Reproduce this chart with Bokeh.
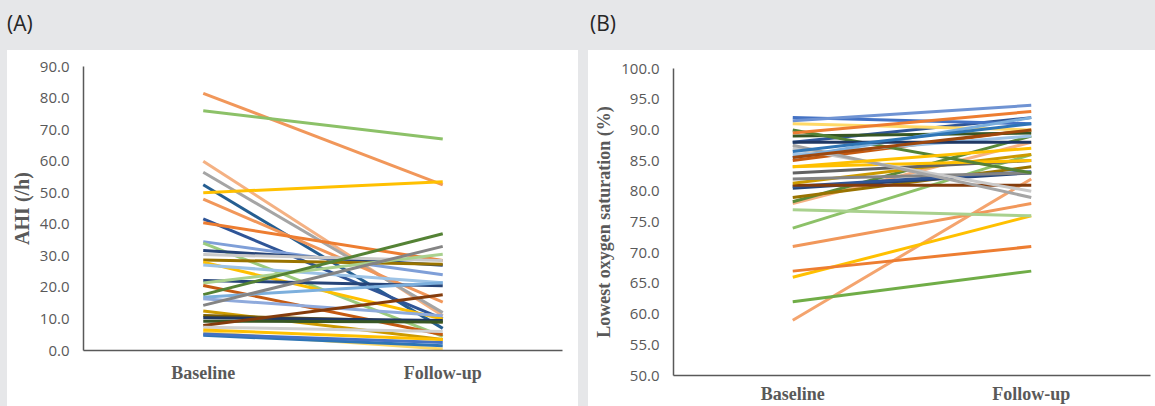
from bokeh.plotting import figure
from bokeh.models import FactorRange, Range1d, ColumnDataSource, Div, Spacer, NumeralTickFormatter, FixedTicker
from bokeh.layouts import column, row
from bokeh.embed import file_html
from bokeh.resources import INLINE

categories = ["Baseline", "Follow-up"]

# Panel A: AHI (/h)
ahi_baseline = [81.5, 76.0, 60.0, 56.5, 52.5, 50.0, 48.0, 41.7, 40.5, 34.5, 34.0,
                31.7, 30.4, 28.7, 28.0, 27.1, 22.2, 21.4, 20.6, 17.7, 16.9, 16.4,
                14.3, 12.5, 11.1, 10.4, 9.3, 7.9, 7.4, 5.8, 4.8, 5.2, 6.5]
ahi_followup = [52.5, 67.0, 11.0, 12.0, 7.0, 53.5, 15.3, 10.0, 28.5, 24.0, 4.5,
                27.0, 28.5, 27.3, 10.0, 21.5, 20.5, 30.5, 5.0, 37.0, 21.5, 11.0,
                33.0, 3.5, 9.0, 9.5, 9.0, 17.7, 6.0, 0.5, 1.5, 2.5, 3.5]
ahi_colors = ["#F1975A", "#8CC168", "#F4B183", "#A5A5A5", "#255E91", "#FFC000",
              "#F1975A", "#2F5597", "#ED7D31", "#7F9FD8", "#9BCB7E", "#264478",
              "#C9C9C9", "#997300", "#FFC000", "#9DC3E6", "#264478", "#A9D18E",
              "#C55A11", "#548235", "#7CAFDD", "#8FAADC", "#848484", "#CC9A00",
              "#7F6000", "#203864", "#385723", "#843C0C", "#D0D0D0", "#FFD966",
              "#2E75B6", "#4472C4", "#FFC000"]

# Panel B: Lowest oxygen saturation (%)
spo2_baseline = [59.0, 62.0, 66.0, 67.0, 71.0, 74.0, 77.0, 78.0, 78.3, 79.0, 80.5,
                 80.8, 81.0, 81.3, 82.0, 83.0, 84.0, 85.0, 86.0, 87.0, 87.5, 88.0,
                 89.0, 90.0, 91.0, 92.0, 91.5, 89.5, 85.5, 88.0, 85.5, 86.5, 84.0]
spo2_followup = [82.0, 67.0, 76.0, 71.0, 78.0, 86.0, 76.0, 88.0, 89.0, 84.0, 83.0,
                 83.2, 81.0, 86.0, 83.0, 85.0, 85.0, 90.0, 89.0, 80.0, 79.0, 92.0,
                 89.5, 83.0, 90.0, 91.0, 94.0, 93.0, 92.0, 88.0, 90.0, 91.0, 87.0]
spo2_colors = ["#F4A46E", "#70AD47", "#FFC000", "#ED7D31", "#F1975A", "#8CC168",
               "#A9D18E", "#F4B183", "#5A8A39", "#997300", "#264478", "#2F5597",
               "#843C0C", "#CC9A00", "#848484", "#636363", "#FFC000", "#C55A11",
               "#9DC3E6", "#C9C9C9", "#A5A5A5", "#2F5597", "#375623", "#548235",
               "#FFD966", "#4472C4", "#6F93D3", "#ED7D31", "#7CAFDD", "#1F3864",
               "#9E480E", "#2E75B6", "#FFC000"]

ahi_ticks = [0, 10, 20, 30, 40, 50, 60, 70, 80, 90]
spo2_ticks = [50, 55, 60, 65, 70, 75, 80, 85, 90, 95, 100]

GRAY_BG = "#E6E7E9"
TXT = "#595959"


def make_panel(base, follow, colors, y0, y1, ticks, ylabel, ylab_size, xstand,
               w, h, bl, bt, br, bb):
    p = figure(width=w, height=h, x_range=FactorRange(factors=categories),
               y_range=Range1d(y0, y1), output_backend="svg", toolbar_location=None,
               min_border_left=bl, min_border_top=bt, min_border_right=br,
               min_border_bottom=bb, margin=0, styles={"background-color": "white"})
    p.background_fill_color = None
    p.border_fill_color = None
    p.outline_line_color = None
    p.xgrid.visible = False
    p.ygrid.visible = False
    src = ColumnDataSource(dict(
        xs=[list(categories) for _ in base],
        ys=[[b, f] for b, f in zip(base, follow)],
        color=colors))
    p.multi_line(xs="xs", ys="ys", line_color="color", line_width=3, source=src)

    p.yaxis.ticker = FixedTicker(ticks=ticks)
    p.yaxis.formatter = NumeralTickFormatter(format="0.0")
    p.yaxis.major_label_text_font = "Open Sans"
    p.yaxis.major_label_text_font_size = "15px"
    p.yaxis.major_label_text_color = TXT
    p.yaxis.major_label_standoff = 14
    p.yaxis.axis_label = ylabel
    p.yaxis.axis_label_text_font = "Liberation Serif"
    p.yaxis.axis_label_text_font_style = "bold"
    p.yaxis.axis_label_text_font_size = ylab_size
    p.yaxis.axis_label_text_color = TXT
    p.yaxis.axis_label_standoff = 4

    p.xaxis.major_label_text_font = "Liberation Serif"
    p.xaxis.major_label_text_font_style = "bold"
    p.xaxis.major_label_text_font_size = "18px"
    p.xaxis.major_label_text_color = TXT
    p.xaxis.major_label_standoff = xstand

    for ax in (p.xaxis, p.yaxis):
        ax.major_tick_line_color = None
        ax.minor_tick_line_color = None
        ax.major_tick_out = 0
        ax.major_tick_in = 0
        ax.minor_tick_out = 0
        ax.minor_tick_in = 0
        ax.axis_line_color = "#595959"
        ax.axis_line_width = 1.5
    return p


pA = make_panel(ahi_baseline, ahi_followup, ahi_colors, 0, 90, ahi_ticks,
                "AHI (/h)", "20px", 12, 571, 356, 75, 16, 16, 56)
pB = make_panel(spo2_baseline, spo2_followup, spo2_colors, 50, 100, spo2_ticks,
                "Lowest oxygen saturation (%)", "18px", 8, 567, 356, 85, 18, 5, 31)

hdr_style = "margin:11px 0 0 0; font-family:'Open Sans'; font-size:21px; color:#262626; line-height:24px;"
divA = Div(text=f'<div style="{hdr_style}">(A)</div>', width=571, height=50, margin=0)
divB = Div(text=f'<div style="{hdr_style} margin-left:2px;">(B)</div>', width=567, height=50, margin=0)

colA = column(divA, pA, margin=0, spacing=0)
colB = column(divB, pB, margin=0, spacing=0)
layout = row(Spacer(width=7, height=406, margin=0), colA,
             Spacer(width=10, height=406, margin=0), colB,
             margin=0, spacing=0, styles={"background-color": GRAY_BG})

open("out.html", "w").write(file_html(layout, INLINE))
